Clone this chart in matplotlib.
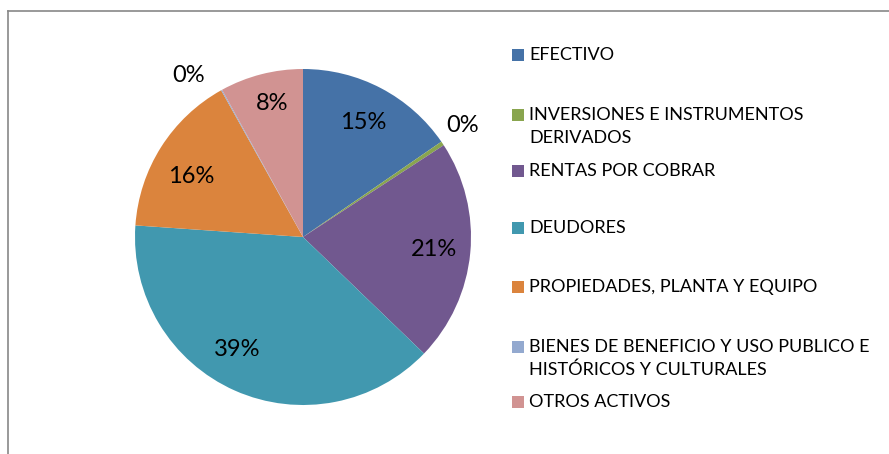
import matplotlib
matplotlib.use("Agg")
import matplotlib.pyplot as plt
import numpy as np

categories = ["EFECTIVO", "INVERSIONES E INSTRUMENTOS\nDERIVADOS", "RENTAS POR COBRAR",
              "DEUDORES", "PROPIEDADES, PLANTA Y EQUIPO",
              "BIENES DE BENEFICIO Y USO PUBLICO E\nHISTÓRICOS Y CULTURALES", "OTROS ACTIVOS"]
values = [15.4, 0.4, 21.4, 38.9, 15.8, 0.1, 8.0]
pct_labels = ["15%", "0%", "21%", "39%", "16%", "0%", "8%"]
colors = ["#4572A7", "#89A54E", "#71588F", "#4198AF", "#DB843D", "#93A9CF", "#D19392"]

plt.rcParams['font.family'] = ['Lato', 'DejaVu Sans']

W, H = 889, 454
fig = plt.figure(figsize=(W / 100, H / 100), dpi=100)

# frame lines
fig.add_artist(plt.Line2D([8 / W, 8 / W], [0, 1 - 11 / H], color="#888888", lw=1.2))
fig.add_artist(plt.Line2D([8 / W, 1], [1 - 11 / H, 1 - 11 / H], color="#888888", lw=1.2))

cx, cy, r = 303, 237, 168
ax = fig.add_axes([(cx - r) / W, (H - cy - r) / H, 2 * r / W, 2 * r / H])
wedges, _ = ax.pie(values, colors=colors, startangle=90, counterclock=False,
                   wedgeprops=dict(linewidth=0), radius=1)
ax.set_xlim(-1, 1)
ax.set_ylim(-1, 1)
ax.set_aspect("equal")

# label nudges in pixels (x right, y up) mimicking Excel best-fit placement
nudges = [(0, 0), (-4, 2), (2, 0), (-13, 6), (-3, -9), (-19, -10), (1, 8)]
for i, w in enumerate(wedges):
    ang = np.deg2rad((w.theta1 + w.theta2) / 2)
    d = 0.77 if values[i] >= 1 else 1.17
    ax.annotate(pct_labels[i], xy=(d * np.cos(ang), d * np.sin(ang)),
                xytext=nudges[i], textcoords="offset pixels", annotation_clip=False,
                ha="center", va="center", fontsize=17, color="black")

# legend
leg_y = [55, 115, 171, 228, 287, 347, 402]
line_h = 23
for i, (lab, col) in enumerate(zip(categories, colors)):
    y = leg_y[i]
    fig.add_artist(plt.Rectangle((512 / W, 1 - (y + 6) / H), 12 / W, 12 / H,
                                 facecolor=col, edgecolor="none"))
    for j, line in enumerate(lab.split("\n")):
        fig.text(529 / W, 1 - (y + j * line_h) / H, line, ha="left", va="center",
                 fontsize=13, color="black")

fig.savefig("out.png", dpi=100)
